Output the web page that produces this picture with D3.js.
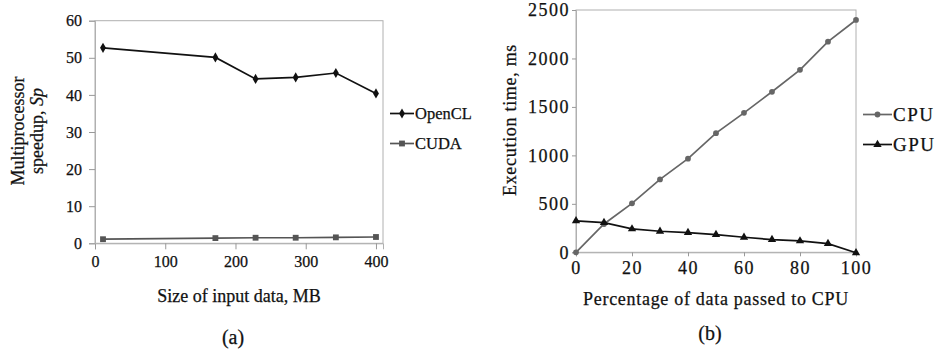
<!DOCTYPE html>
<html>
<head>
<meta charset="utf-8">
<script src="https://cdn.jsdelivr.net/npm/d3@7"></script>
<style>
  body { margin: 0; background: #fff; }
  svg text { font-family: "Liberation Serif", "Times New Roman", Times, serif !important; fill: #111; stroke: #111; stroke-width: 0.25px; }
</style>
</head>
<body>
<div id="chart"></div>
<script>
// (a) speedup vs input size
const sizeMB = [11.4, 171.4, 228.6, 285.7, 342.9, 400];
const openclSpeedup = [52.7, 50.1, 44.3, 44.7, 45.9, 40.4];
const cudaSpeedup = [1.1, 1.4, 1.5, 1.5, 1.6, 1.7];
const ticksA_x = [0, 100, 200, 300, 400];
const ticksA_y = [0, 10, 20, 30, 40, 50, 60];

// (b) execution time vs % data on CPU
const pctCPU = [0, 10, 20, 30, 40, 50, 60, 70, 80, 90, 100];
const cpuTime = [0, 292, 505, 752, 966, 1229, 1439, 1656, 1883, 2173, 2397];
const gpuTime = [324, 306, 241, 217, 203, 182, 155, 131, 117, 90, -5];
const ticksB_x = [0, 20, 40, 60, 80, 100];
const ticksB_y = [0, 500, 1000, 1500, 2000, 2500];

const svg = d3.select('#chart').append('svg')
    .attr('width', 938)
    .attr('height', 350);

function drawPanel(cfg) {
  const g = svg.append('g');
  const x = d3.scaleLinear().domain(cfg.xDomain).range(cfg.xRange);
  const y = d3.scaleLinear().domain(cfg.yDomain).range(cfg.yRange);

  // plot frame
  g.append('rect')
      .attr('x', cfg.xRange[0]).attr('y', cfg.yRange[1])
      .attr('width', cfg.xRange[1] - cfg.xRange[0])
      .attr('height', cfg.yRange[0] - cfg.yRange[1])
      .attr('fill', 'none').attr('stroke', '#b0b0b0').attr('stroke-width', 1);

  const xAxis = g.append('g')
      .attr('transform', 'translate(0,' + cfg.yRange[0] + ')')
      .call(d3.axisBottom(x).tickValues(cfg.xTicks).tickFormat(d3.format('d'))
          .tickSize(cfg.tickLen).tickPadding(cfg.xPad));
  const yAxis = g.append('g')
      .attr('transform', 'translate(' + cfg.xRange[0] + ',0)')
      .call(d3.axisLeft(y).tickValues(cfg.yTicks).tickFormat(d3.format('d'))
          .tickSize(cfg.tickLen).tickPadding(cfg.yPad));
  [xAxis, yAxis].forEach((a) => {
    a.attr('font-family', null).attr('font-size', null);
    a.select('.domain').attr('stroke', '#b0b0b0');
    a.selectAll('.tick line').attr('stroke', '#999');
    a.selectAll('text')
        .style('font-size', cfg.tickFont + 'px')
        .style('letter-spacing', cfg.tickSpacing + 'px')
        .attr('fill', '#111');
  });

  const line = d3.line().x((d) => x(d[0])).y((d) => y(d[1]));

  cfg.series.forEach((s, i) => {
    const pts = cfg.xs.map((v, j) => [v, s.values[j]]);
    g.append('path')
        .attr('d', line(pts))
        .attr('fill', 'none')
        .attr('stroke', s.color)
        .attr('stroke-width', 1.7);
    g.selectAll(null).data(pts).enter().append('path')
        .attr('transform', (d) => 'translate(' + x(d[0]) + ',' + y(d[1]) + ')')
        .attr('d', d3.symbol().type(s.symbol).size(s.size))
        .attr('fill', s.color);

    // legend entry
    const ly = cfg.legendY + i * 30;
    g.append('line')
        .attr('x1', cfg.legendX).attr('x2', cfg.legendX + cfg.legendLen)
        .attr('y1', ly).attr('y2', ly)
        .attr('stroke', s.color).attr('stroke-width', 1.7);
    g.append('path')
        .attr('transform', 'translate(' + (cfg.legendX + cfg.legendLen / 2) + ',' + ly + ')')
        .attr('d', d3.symbol().type(s.symbol).size(s.size))
        .attr('fill', s.color);
    g.append('text')
        .attr('x', cfg.legendX + cfg.legendLen + 1)
        .attr('y', ly)
        .attr('dy', '0.35em')
        .style('font-size', cfg.legendFont + 'px')
        .style('letter-spacing', cfg.legendSpacing + 'px')
        .text(s.name);
  });

  // x title
  g.append('text')
      .attr('x', (cfg.xRange[0] + cfg.xRange[1]) / 2)
      .attr('y', cfg.xTitleY)
      .attr('text-anchor', 'middle')
      .style('font-size', cfg.titleFont + 'px')
      .style('letter-spacing', cfg.titleSpacing + 'px')
      .text(cfg.xTitle);

  // y title (may be multi-line)
  cfg.yTitle.forEach((ln, i) => {
    const t = g.append('text')
        .attr('transform', 'translate(' + cfg.yTitleX[i] + ',' + cfg.yTitleCY + ') rotate(-90)')
        .attr('text-anchor', 'middle')
        .style('font-size', cfg.titleFont + 'px')
        .style('letter-spacing', cfg.titleSpacing + 'px');
    ln.forEach((part) => {
      t.append('tspan').style('font-style', part.italic ? 'italic' : 'normal').text(part.t);
    });
  });

  // panel label
  g.append('text')
      .attr('x', cfg.labelX).attr('y', cfg.labelY)
      .attr('text-anchor', 'middle')
      .style('font-size', '20px')
      .text(cfg.label);
}

drawPanel({
  xDomain: [0, 410], xRange: [95, 383],
  yDomain: [0, 60], yRange: [243.3, 20.7],
  xTicks: ticksA_x, yTicks: ticksA_y,
  tickLen: 6, xPad: 6, yPad: 7, tickFont: 16, tickSpacing: 0,
  xs: sizeMB,
  series: [
    { name: 'OpenCL', values: openclSpeedup, color: '#111', symbol: d3.symbolDiamond, size: 30 },
    { name: 'CUDA', values: cudaSpeedup, color: '#555', symbol: d3.symbolSquare, size: 34 }
  ],
  legendX: 390, legendY: 113.5, legendLen: 24, legendFont: 16.5, legendSpacing: 0,
  xTitle: 'Size of input data, MB', xTitleY: 302,
  yTitle: [[{ t: 'Multiprocessor' }], [{ t: 'speedup, ' }, { t: 'Sp', italic: true }]],
  yTitleX: [24, 43], yTitleCY: 131,
  titleFont: 18, titleSpacing: 0,
  label: '(a)', labelX: 233, labelY: 344
});

drawPanel({
  xDomain: [0, 100], xRange: [576, 856],
  yDomain: [0, 2500], yRange: [252.3, 10],
  xTicks: ticksB_x, yTicks: ticksB_y,
  tickLen: 4, xPad: 5, yPad: 2, tickFont: 18, tickSpacing: 1.5,
  xs: pctCPU,
  series: [
    { name: 'CPU', values: cpuTime, color: '#666', symbol: d3.symbolCircle, size: 26 },
    { name: 'GPU', values: gpuTime, color: '#111', symbol: d3.symbolTriangle, size: 30 }
  ],
  legendX: 863, legendY: 114.5, legendLen: 29, legendFont: 19, legendSpacing: 1.5,
  xTitle: 'Percentage of data passed to CPU', xTitleY: 305,
  yTitle: [[{ t: 'Execution time, ms' }]],
  yTitleX: [516], yTitleCY: 120,
  titleFont: 18, titleSpacing: 0.7,
  label: '(b)', labelX: 710, labelY: 340
});
</script>
</body>
</html>
